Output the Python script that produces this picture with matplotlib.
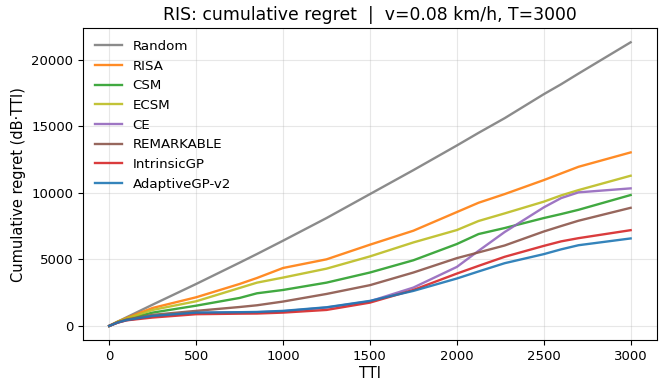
import matplotlib
matplotlib.use("Agg")
import matplotlib.pyplot as plt

# TTI sample points
tti = [0, 50, 100, 250, 500, 750, 850, 1000, 1250, 1500, 1750, 2000, 2125, 2275, 2500, 2600, 2700, 3000]

random_regret = [0, 330, 650, 1600, 3150, 4750, 5400, 6400, 8100, 9900, 11700, 13550, 14500, 15600, 17400, 18150, 18950, 21300]
risa = [0, 330, 600, 1350, 2150, 3150, 3600, 4350, 5000, 6100, 7150, 8550, 9250, 9900, 10950, 11450, 11950, 13030]
ecsm = [0, 320, 560, 1200, 1850, 2850, 3250, 3630, 4300, 5220, 6270, 7200, 7880, 8450, 9330, 9800, 10200, 11280]
csm = [0, 300, 520, 1000, 1520, 2100, 2450, 2700, 3250, 4010, 4930, 6150, 6900, 7350, 8100, 8400, 8720, 9830]
remarkable = [0, 280, 480, 830, 1130, 1420, 1550, 1830, 2400, 3060, 4010, 5090, 5520, 6040, 7090, 7500, 7900, 8870]
ce = [0, 260, 430, 720, 980, 1020, 1030, 1100, 1380, 1850, 2880, 4430, 5640, 7050, 8900, 9600, 10030, 10330]
intrinsic_gp = [0, 250, 420, 630, 880, 920, 930, 1000, 1200, 1750, 2700, 3930, 4510, 5190, 6010, 6350, 6590, 7190]
adaptive_gp = [0, 260, 440, 750, 1000, 1030, 1050, 1130, 1400, 1880, 2630, 3560, 4090, 4710, 5390, 5750, 6060, 6570]

series = [
    ("Random", random_regret, "tab:gray"),
    ("RISA", risa, "tab:orange"),
    ("CSM", csm, "tab:green"),
    ("ECSM", ecsm, "tab:olive"),
    ("CE", ce, "tab:purple"),
    ("REMARKABLE", remarkable, "tab:brown"),
    ("IntrinsicGP", intrinsic_gp, "tab:red"),
    ("AdaptiveGP-v2", adaptive_gp, "tab:blue"),
]

fig = plt.figure(figsize=(6.6, 3.8), dpi=100)
ax = fig.add_axes([0.126, 0.105, 0.869, 0.821])

for name, vals, col in series:
    ax.plot(tti, vals, color=col, lw=1.7, alpha=0.9, label=name)

ax.set_title("RIS: cumulative regret  |  v=0.08 km/h, T=3000", fontsize=12.4)
ax.set_xlabel("TTI", fontsize=10.5, labelpad=2)
ax.set_ylabel("Cumulative regret (dB·TTI)", fontsize=10.5)
ax.tick_params(labelsize=9.5)
ax.grid(True, alpha=0.3)
ax.legend(loc="upper left", frameon=False, fontsize=9.6)

fig.savefig("out.png", dpi=100)
